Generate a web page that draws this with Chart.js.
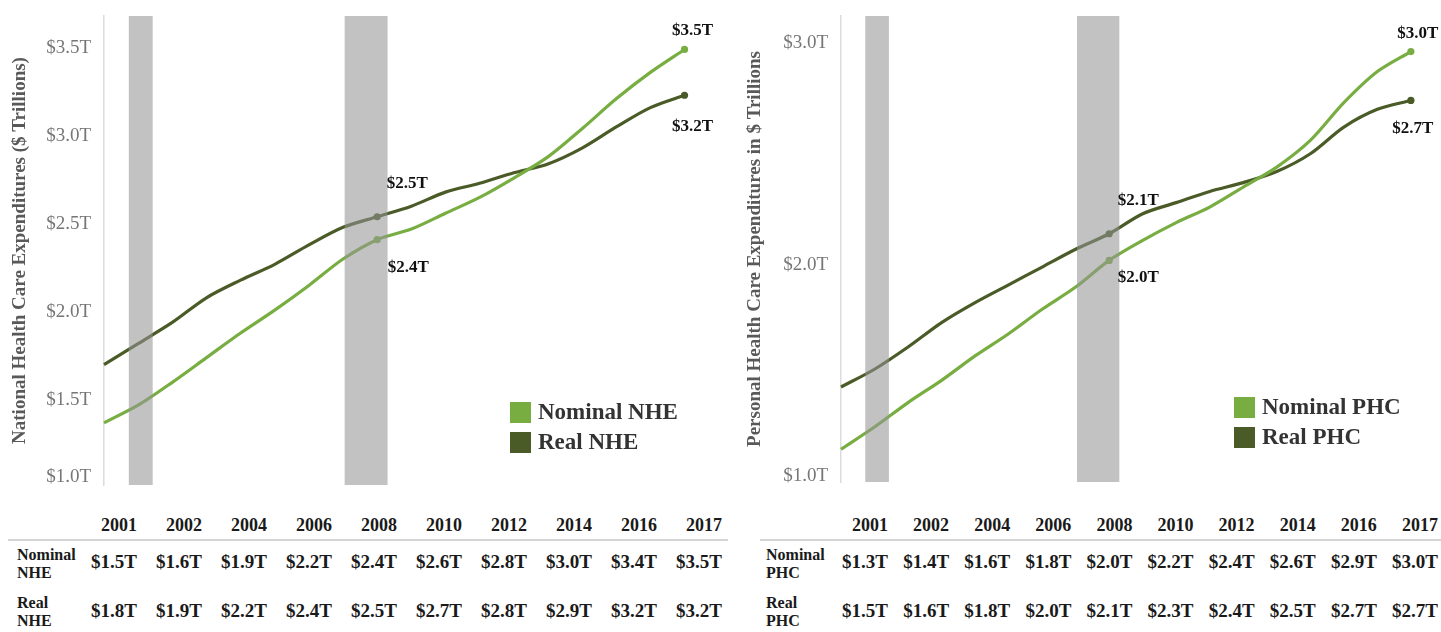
<!DOCTYPE html>
<html><head><meta charset="utf-8">
<script src="https://cdn.jsdelivr.net/npm/chart.js@4.4.1/dist/chart.umd.min.js"></script>
<style>
html,body{margin:0;padding:0;background:#fff;}
body{width:1441px;height:632px;position:relative;overflow:hidden;font-family:"Liberation Serif","Times New Roman",serif;}
.cw{position:absolute;top:0;}
.leg{position:absolute;font-weight:bold;font-size:23px;color:#333;line-height:30px;}
.leg .it{display:flex;align-items:center;height:30px;}
.leg .sw{width:21px;height:21px;margin-right:7px;display:inline-block;}
.hd,.val{position:absolute;font-weight:bold;color:#1a1a1a;text-align:right;white-space:nowrap;}
.hd{font-size:18px;}
.val{font-size:19px;}
.rl{position:absolute;font-weight:bold;font-size:16px;line-height:18px;color:#1a1a1a;}
.hl{position:absolute;height:2px;background:#d4d4d4;}
</style></head>
<body>
<div class="cw" style="left:0;width:725px;height:500px"><canvas id="cl" width="725" height="500"></canvas></div>
<div class="cw" style="left:735px;width:706px;height:497px"><canvas id="cr" width="706" height="497"></canvas></div>
<div id="legL" class="leg" style="left:510px;top:397px"></div>
<div id="legR" class="leg" style="left:1234px;top:392px"></div>
<div id="tblL"></div>
<div id="tblR"></div>
<script>
// ---- data ----
const years = [2000,2001,2002,2003,2004,2005,2006,2007,2008,2009,2010,2011,2012,2013,2014,2015,2016,2017];
const nheNominal = [1.37,1.47,1.60,1.74,1.88,2.01,2.15,2.30,2.41,2.47,2.56,2.65,2.76,2.88,3.04,3.21,3.36,3.49];
const nheReal    = [1.70,1.82,1.94,2.08,2.18,2.27,2.38,2.48,2.54,2.60,2.68,2.73,2.79,2.84,2.93,3.05,3.16,3.23];
const phcNominal = [1.17,1.27,1.38,1.48,1.59,1.69,1.80,1.90,2.02,2.11,2.19,2.26,2.35,2.44,2.56,2.73,2.87,2.96];
const phcReal    = [1.45,1.53,1.63,1.74,1.83,1.91,1.99,2.07,2.14,2.23,2.28,2.33,2.37,2.42,2.50,2.62,2.70,2.74];
const recessions = [[2000.72, 2001.43], [2007.04, 2008.31]];
const labelYears = [2008, 2017];
const tableYears = [2001,2002,2004,2006,2008,2010,2012,2014,2016,2017];
const tblNominalNHE = [1.5,1.6,1.9,2.2,2.4,2.6,2.8,3.0,3.4,3.5];
const tblRealNHE    = [1.8,1.9,2.2,2.4,2.5,2.7,2.8,2.9,3.2,3.2];
const tblNominalPHC = [1.3,1.4,1.6,1.8,2.0,2.2,2.4,2.6,2.9,3.0];
const tblRealPHC    = [1.5,1.6,1.8,2.0,2.1,2.3,2.4,2.5,2.7,2.7];
const nheTicks = [1.0,1.5,2.0,2.5,3.0,3.5];
const phcTicks = [1.0,2.0,3.0];

const C_NOM = '#78ad42', C_REAL = '#4b5b27', C_REC = 'rgba(148,148,148,0.57)';
const FONT = '"Liberation Serif","Times New Roman",serif';
const fmt = v => '$' + v.toFixed(1) + 'T';

const pointLabels = {
  id: 'pointLabels',
  afterDatasetsDraw(chart, args, opts) {
    const ctx = chart.ctx;
    ctx.save();
    ctx.font = 'bold 17px ' + FONT;
    ctx.fillStyle = '#111';
    ctx.textAlign = 'center';
    ctx.textBaseline = 'middle';
    (opts.items || []).forEach(it => {
      const ds = chart.data.datasets[it.ds];
      const idx = ds.data.findIndex(p => p.x === it.year);
      const el = chart.getDatasetMeta(it.ds).data[idx];
      ctx.fillText(fmt(ds.data[idx].y), el.x + it.dx, el.y + it.dy);
    });
    ctx.restore();
  }
};

function build(canvasId, cfg) {
  const mk = vals => years.map((y, i) => ({x: y, y: vals[i]}));
  const lineDs = (label, vals, color) => ({
    label, data: mk(vals), borderColor: color, backgroundColor: color,
    borderWidth: 3.2, tension: 0.3, fill: false, order: 2, clip: false,
    pointRadius: c => labelYears.includes(c.raw && c.raw.x) ? 3.6 : 0,
    pointBorderWidth: 0, pointHoverRadius: 0
  });
  const recDs = recessions.map(r => ({
    label: 'rec', data: [{x: r[0], y: cfg.yMax}, {x: r[1], y: cfg.yMax}],
    borderWidth: 0, borderColor: 'transparent', backgroundColor: C_REC,
    fill: 'start', pointRadius: 0, tension: 0, order: 0
  }));
  return new Chart(document.getElementById(canvasId), {
    type: 'line',
    data: { datasets: [lineDs(cfg.nomLabel, cfg.nom, C_NOM), lineDs(cfg.realLabel, cfg.real, C_REAL), ...recDs] },
    options: {
      responsive: false, animation: false, devicePixelRatio: 1,
      layout: { padding: { top: 16, bottom: 15, right: cfg.padRight, left: 0 } },
      plugins: {
        legend: { display: false }, tooltip: { enabled: false },
        pointLabels: { items: cfg.labels }
      },
      scales: {
        x: { type: 'linear', min: 2000, max: 2017.6, display: false },
        y: {
          min: cfg.yMin, max: cfg.yMax,
          afterBuildTicks: s => { s.ticks = cfg.ticks.map(v => ({value: v})); },
          afterFit: s => { s.width = cfg.axisW; s.paddingTop = 0; s.paddingBottom = 0; },
          grid: { display: true, color: 'transparent', drawTicks: false },
          border: { display: true, color: '#dcdcdc', width: 1.5 },
          ticks: {
            padding: 13, color: '#767676', font: { family: FONT, size: 19 },
            callback: v => v === cfg.ticks[0] ? [fmt(v), ''] : fmt(v)
          },
          title: {
            display: true, text: cfg.title, color: '#595959',
            font: { family: FONT, size: 19, weight: 'bold' },
            padding: { top: 9, bottom: 0 }
          }
        }
      }
    },
    plugins: [pointLabels]
  });
}

build('cl', {
  nom: nheNominal, real: nheReal, nomLabel: 'Nominal NHE', realLabel: 'Real NHE',
  yMin: 1.017, yMax: 3.68, ticks: nheTicks, axisW: 104, padRight: 20,
  title: 'National Health Care Expenditures ($ Trillions)',
  labels: [
    {ds: 0, year: 2008, dx: 31, dy: 28}, {ds: 1, year: 2008, dx: 30, dy: -33},
    {ds: 0, year: 2017, dx: 8, dy: -19}, {ds: 1, year: 2017, dx: 8, dy: 31}
  ]
});
build('cr', {
  nom: phcNominal, real: phcReal, nomLabel: 'Nominal PHC', realLabel: 'Real PHC',
  yMin: 1.0225, yMax: 3.12, ticks: phcTicks, axisW: 106, padRight: 10,
  title: 'Personal Health Care Expenditures in $ Trillions',
  labels: [
    {ds: 0, year: 2008, dx: 29, dy: 17}, {ds: 1, year: 2008, dx: 29, dy: -33},
    {ds: 0, year: 2017, dx: 7, dy: -18}, {ds: 1, year: 2017, dx: 2, dy: 28}
  ]
});

function legend(id, names) {
  const el = document.getElementById(id);
  el.innerHTML = names.map((n, i) =>
    `<div class="it"><span class="sw" style="background:${[C_NOM, C_REAL][i]}"></span>${n}</div>`).join('');
}
legend('legL', ['Nominal NHE', 'Real NHE']);
legend('legR', ['Nominal PHC', 'Real PHC']);

function table(id, o) {
  let h = `<div class="hl" style="left:${o.lineL}px;width:${o.lineW}px;top:539px"></div>`;
  tableYears.forEach((y, i) => {
    const r = o.right0 + o.step * i;
    h += `<div class="hd" style="right:${1441 - r}px;top:515px">${y}</div>`;
    h += `<div class="val" style="right:${1441 - r}px;top:551px">${fmt(o.nom[i])}</div>`;
    h += `<div class="val" style="right:${1441 - r}px;top:600px">${fmt(o.real[i])}</div>`;
  });
  h += `<div class="rl" style="left:${o.labelL}px;top:546px">Nominal<br>${o.abbr}</div>`;
  h += `<div class="rl" style="left:${o.labelL}px;top:594px">Real<br>${o.abbr}</div>`;
  document.getElementById(id).innerHTML = h;
}
table('tblL', {right0: 137, step: 65, lineL: 8, lineW: 720, labelL: 17, abbr: 'NHE', nom: tblNominalNHE, real: tblRealNHE});
table('tblR', {right0: 888, step: 61.1, lineL: 760, lineW: 681, labelL: 766, abbr: 'PHC', nom: tblNominalPHC, real: tblRealPHC});
</script>
</body></html>
